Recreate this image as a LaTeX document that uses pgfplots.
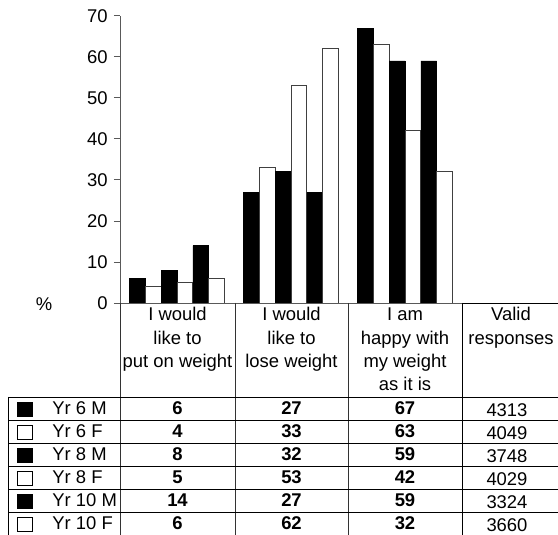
\documentclass[border=0pt]{standalone}
\usepackage{pgfplots}
\pgfplotsset{compat=1.18}
\usepackage{fontspec}
\setmainfont{Liberation Sans}
\begin{document}
\fontsize{18.5}{23}\selectfont
\begin{tikzpicture}
\path[use as bounding box] (0,0) rectangle (558bp,535bp);
\begin{axis}[
  at={(120bp,232bp)}, anchor=south west,
  scale only axis, width=342bp, height=287.3bp,
  xmin=-0.5, xmax=2.5, ymin=0, ymax=70,
  axis x line=none, axis y line*=left,
  y axis line style={draw=black!65, line width=0.8bp},
  ytick={0,10,...,70}, xtick=\empty,
  tick align=outside, major tick length=6bp,
  ytick style={draw=black!65, line width=0.8bp},
  yticklabel style={font=\fontsize{18.5}{20}\selectfont, text=black},
  /pgf/number format/assume math mode=true,
  bar width=0.1385,
  clip=false,
]
\addplot[ybar, bar shift=-0.34625, fill=black, draw=black, line width=0.5bp] coordinates {(0,6) (1,27) (2,67)};
\addplot[ybar, bar shift=-0.20775, fill=white, draw=black!75, line width=0.8bp] coordinates {(0,4) (1,33) (2,63)};
\addplot[ybar, bar shift=-0.06925, fill=black, draw=black, line width=0.5bp] coordinates {(0,8) (1,32) (2,59)};
\addplot[ybar, bar shift=0.06925, fill=white, draw=black!75, line width=0.8bp] coordinates {(0,5) (1,53) (2,42)};
\addplot[ybar, bar shift=0.20775, fill=black, draw=black, line width=0.5bp] coordinates {(0,14) (1,27) (2,59)};
\addplot[ybar, bar shift=0.34625, fill=white, draw=black!75, line width=0.8bp] coordinates {(0,6) (1,62) (2,32)};
\end{axis}
\begin{scope}[shift={(0bp,535bp)}, x=1bp, y=-1bp, line width=0.8bp]
  % percent label
  \node[anchor=base, inner sep=0pt] at (44,311) {\%};
  % zero line / table top
  \draw[black!65] (120,303) -- (462,303);
  \draw[black] (462,303) -- (560,303);
  % vertical separators
  \draw[black!80] (120,303) -- (120,540);
  \draw[black!80] (235,303) -- (235,540);
  \draw[black!80] (348,303) -- (348,540);
  \draw[black] (462,303) -- (462,540);
  \draw[black] (8,397) -- (8,540);
  % horizontal row lines
  \foreach \r in {0,...,5} {
    \draw[black] (8,397+23*\r) -- (560,397+23*\r);
  }
  % header text
  \node[anchor=base, inner sep=0pt] at (177.5,321) {I would};
  \node[anchor=base, inner sep=0pt] at (177.5,344.3) {like to};
  \node[anchor=base, inner sep=0pt] at (177.5,367.6) {put on weight};
  \node[anchor=base, inner sep=0pt] at (291.5,321) {I would};
  \node[anchor=base, inner sep=0pt] at (291.5,344.3) {like to};
  \node[anchor=base, inner sep=0pt] at (291.5,367.6) {lose weight};
  \node[anchor=base, inner sep=0pt] at (405,321) {I am};
  \node[anchor=base, inner sep=0pt] at (405,344.3) {happy with};
  \node[anchor=base, inner sep=0pt] at (405,367.6) {my weight};
  \node[anchor=base, inner sep=0pt] at (405,390.9) {as it is};
  \node[anchor=base, inner sep=0pt] at (511,321) {Valid};
  \node[anchor=base, inner sep=0pt] at (511,344.3) {responses};
  % rows
  \foreach \i/\lab/\fillc/\a/\b/\c/\v in {
      0/Yr 6 M/black/6/27/67/4313,
      1/Yr 6 F/white/4/33/63/4049,
      2/Yr 8 M/black/8/32/59/3748,
      3/Yr 8 F/white/5/53/42/4029,
      4/Yr 10 M/black/14/27/59/3324,
      5/Yr 10 F/white/6/62/32/3660} {
    \pgfmathsetmacro{\yb}{397+23*\i+11.5+6.5}
    \pgfmathsetmacro{\yc}{397+23*\i+12}
    \draw[black, line width=0.8bp, fill=\fillc] (17,\yc-7) rectangle (32,\yc+7);
    \node[anchor=base west, inner sep=0pt] at (52,\yb) {\lab};
    \node[anchor=base, inner sep=0pt] at (177.5,\yb) {\bfseries\a};
    \node[anchor=base, inner sep=0pt] at (291.5,\yb) {\bfseries\b};
    \node[anchor=base, inner sep=0pt] at (405,\yb) {\bfseries\c};
    \node[anchor=base, inner sep=0pt] at (507,\yb+1.5) {\v};
  }
\end{scope}
\end{tikzpicture}
\end{document}
